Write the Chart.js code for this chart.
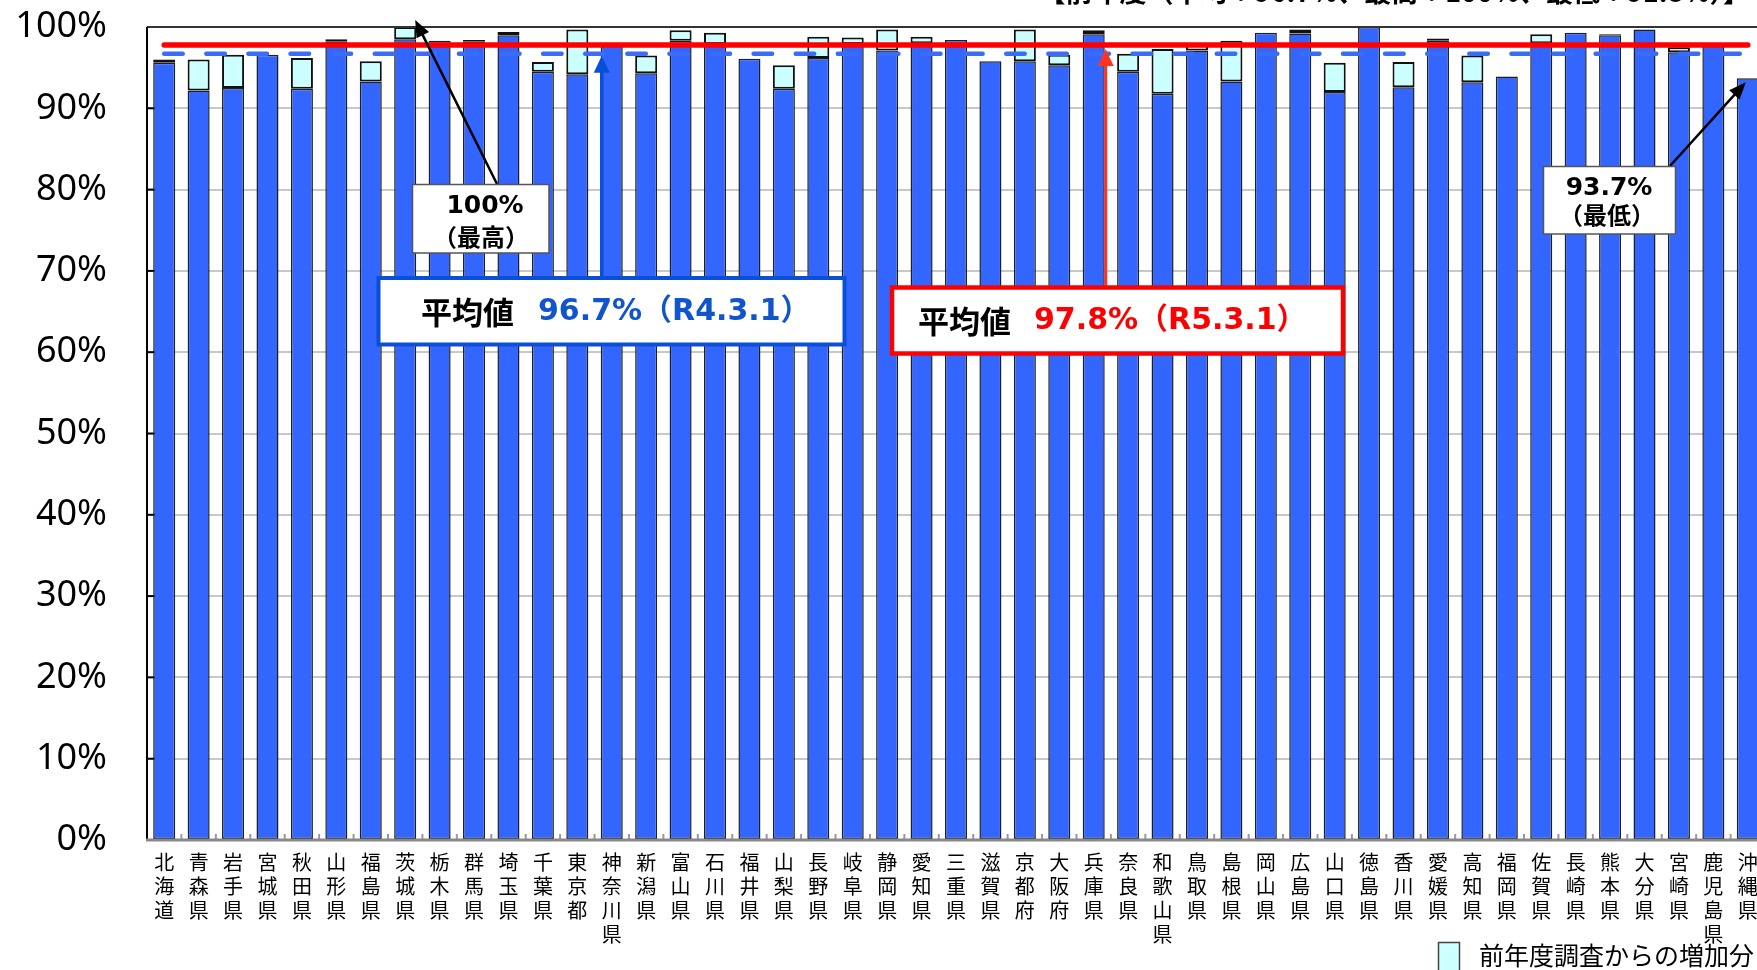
<!DOCTYPE html>
<html>
<head>
<meta charset="utf-8">
<script src="https://cdn.jsdelivr.net/npm/chart.js@4.4.1/dist/chart.umd.min.js"></script>
<style>
  html, body { margin: 0; padding: 0; overflow: hidden; background: #fff; }
  #wrap { position: absolute; left: 0; top: 0; width: 1770px; height: 970px; }
</style>
</head>
<body>
<div id="wrap"><canvas id="c" width="1770" height="970"></canvas></div>
<script>
// 都道府県
const prefectures = [
  '北海道', '青森県', '岩手県', '宮城県', '秋田県', '山形県', '福島県', '茨城県', '栃木県', '群馬県',
  '埼玉県', '千葉県', '東京都', '神奈川県', '新潟県', '富山県', '石川県', '福井県', '山梨県', '長野県',
  '岐阜県', '静岡県', '愛知県', '三重県', '滋賀県', '京都府', '大阪府', '兵庫県', '奈良県', '和歌山県',
  '鳥取県', '島根県', '岡山県', '広島県', '山口県', '徳島県', '香川県', '愛媛県', '高知県', '福岡県',
  '佐賀県', '長崎県', '熊本県', '大分県', '宮崎県', '鹿児島県', '沖縄県',
];

// 前年度調査 (R4.3.1) の値 [%]
const prevRate = [
  95.6, 92.2, 92.5, 96.6, 92.4, 98.2, 93.3, 98.5, 98.3, 98.2,
  99.0, 94.5, 94.2, 97.9, 94.3, 98.3, 97.9, 96.1, 92.4, 96.2,
  97.9, 97.1, 98.0, 98.4, 95.8, 95.8, 95.3, 99.1, 94.5, 91.8,
  97.1, 93.3, 99.3, 99.2, 92.0, 100.0, 92.6, 98.3, 93.2, 93.9,
  98.0, 99.3, 99.0, 99.7, 96.9, 97.9, 93.7,
];

// 今年度調査 (R5.3.1) の値 [%]
const currRate = [
  96.0, 96.0, 96.6, 96.6, 96.2, 98.5, 95.8, 100.0, 98.3, 98.4,
  99.4, 95.7, 99.7, 97.9, 96.5, 99.6, 99.3, 96.1, 95.3, 98.8,
  98.7, 99.7, 98.8, 98.4, 95.8, 99.7, 96.6, 99.6, 96.7, 97.3,
  98.0, 98.3, 99.3, 99.7, 95.6, 100.0, 95.7, 98.6, 96.5, 93.9,
  99.1, 99.3, 99.1, 99.7, 97.5, 97.9, 93.7,
];

const increase = currRate.map((v, i) => +(v - prevRate[i]).toFixed(1));

const avgPrev = 96.7;   // R4.3.1
const avgCurr = 97.8;   // R5.3.1
const maxIndex = 7;     // 茨城県 100%
const minIndex = 46;    // 沖縄県 93.7%

const yTicks = [0, 10, 20, 30, 40, 50, 60, 70, 80, 90, 100];

const JP = '"Noto Sans CJK JP", sans-serif';
const NUM = '"DejaVu Sans", "Noto Sans CJK JP", sans-serif';

function line(ctx, x1, y1, x2, y2) {
  ctx.beginPath(); ctx.moveTo(x1, y1); ctx.lineTo(x2, y2); ctx.stroke();
}

function arrow(ctx, x1, y1, x2, y2, color, w, head, hw) {
  const a = Math.atan2(y2 - y1, x2 - x1);
  const c = Math.cos(a), s = Math.sin(a);
  ctx.strokeStyle = color; ctx.fillStyle = color; ctx.lineWidth = w;
  line(ctx, x1, y1, x2 - head * 0.8 * c, y2 - head * 0.8 * s);
  ctx.beginPath();
  ctx.moveTo(x2, y2);
  ctx.lineTo(x2 - head * c + hw * s, y2 - head * s - hw * c);
  ctx.lineTo(x2 - head * c - hw * s, y2 - head * s + hw * c);
  ctx.closePath();
  ctx.fill();
}

function box(ctx, x, y, w, h, color, lw) {
  ctx.fillStyle = '#fff';
  ctx.fillRect(x, y, w, h);
  ctx.strokeStyle = color; ctx.lineWidth = lw;
  ctx.strokeRect(x, y, w, h);
}

const decorations = {
  id: 'decorations',
  beforeDatasetsDraw(chart) {
    const { ctx, chartArea: a, scales: { x, y } } = chart;
    ctx.save();
    // inward y ticks
    ctx.strokeStyle = '#000'; ctx.lineWidth = 2;
    yTicks.forEach(v => { const py = y.getPixelForValue(v); line(ctx, a.left, py, a.left + 14, py); });
    // small x ticks between categories
    ctx.strokeStyle = '#999'; ctx.lineWidth = 2;
    for (let i = 1; i < prefectures.length; i++) {
      const px = (x.getPixelForValue(i - 1) + x.getPixelForValue(i)) / 2;
      line(ctx, px, a.bottom, px, a.bottom - 6);
    }
    ctx.restore();
  },
  afterDatasetsDraw(chart) {
    const { ctx, chartArea: a, scales: { x, y } } = chart;
    ctx.save();
    // frame
    ctx.strokeStyle = '#333'; ctx.lineWidth = 2;
    line(ctx, a.left, a.top, a.right, a.top);
    ctx.strokeStyle = '#000';
    line(ctx, a.left, a.top, a.left, a.bottom);
    ctx.strokeStyle = '#888'; ctx.lineWidth = 3;
    line(ctx, a.left - 1, a.bottom, a.right, a.bottom);

    const x0 = x.getPixelForValue(0), x1 = x.getPixelForValue(prefectures.length - 1);
    ctx.lineCap = 'round';
    // previous average (dashed blue)
    ctx.strokeStyle = '#3b6cf5'; ctx.lineWidth = 4.5;
    ctx.setLineDash([18.5, 23.6]);
    line(ctx, x0, y.getPixelForValue(avgPrev), x1 - 8, y.getPixelForValue(avgPrev));
    ctx.setLineDash([]);
    // current average (solid red)
    ctx.strokeStyle = '#ff0000'; ctx.lineWidth = 5.5;
    line(ctx, x0, y.getPixelForValue(avgCurr), x1, y.getPixelForValue(avgCurr));
    ctx.restore();
  },
  afterDraw(chart) {
    const { ctx, scales: { x, y } } = chart;
    ctx.save();
    ctx.lineCap = 'butt';

    // header (cut off at top)
    ctx.fillStyle = '#000';
    ctx.font = 'bold 27px ' + JP;
    ctx.textAlign = 'right'; ctx.textBaseline = 'alphabetic';
    ctx.fillText('【前年度（平均：96.7%、最高：100%、最低：91.8%）】', 1750, 2);

    // max box + arrow
    arrow(ctx, 497, 184, x.getPixelForValue(maxIndex) + 10, y.getPixelForValue(100) - 7, '#000', 2.5, 17, 7);
    box(ctx, 412.5, 184.5, 136.5, 68.5, '#555', 1.5);
    ctx.fillStyle = '#000'; ctx.textAlign = 'center'; ctx.textBaseline = 'middle';
    ctx.font = 'bold 25px ' + NUM;
    ctx.fillText('100%', 485, 206);
    ctx.font = 'bold 24px ' + JP;
    ctx.fillText('（最高）', 481, 237);

    // min box + arrow
    arrow(ctx, 1670, 166, x.getPixelForValue(minIndex) - 2, y.getPixelForValue(currRate[minIndex]) + 4, '#000', 2.5, 17, 7);
    box(ctx, 1543.5, 166.5, 132, 67.5, '#555', 1.5);
    ctx.fillStyle = '#000';
    ctx.font = 'bold 25px ' + NUM;
    ctx.fillText('93.7%', 1609, 188);
    ctx.font = 'bold 24px ' + JP;
    ctx.fillText('（最低）', 1607, 215);

    // previous average label
    const bx = x.getPixelForValue(13) - 10;
    arrow(ctx, bx, 278, bx, y.getPixelForValue(avgPrev) + 2, '#0a50d6', 3.5, 17, 8);
    box(ctx, 378.5, 278, 466, 66.5, '#0a50d6', 4);
    ctx.textAlign = 'left';
    ctx.fillStyle = '#000'; ctx.font = 'bold 31px ' + JP;
    ctx.fillText('平均値', 421, 312);
    ctx.fillStyle = '#1155cc'; ctx.font = 'bold 30px ' + NUM;
    ctx.fillText('96.7%（R4.3.1）', 538, 312);

    // current average label
    const rx = x.getPixelForValue(27) + 12;
    arrow(ctx, rx, 287, rx, y.getPixelForValue(avgCurr) + 4, '#ff3322', 3, 17, 8);
    box(ctx, 892, 287.5, 451, 66, '#ff0000', 4.5);
    ctx.fillStyle = '#000'; ctx.font = 'bold 31px ' + JP;
    ctx.fillText('平均値', 918, 321);
    ctx.fillStyle = '#ff0000'; ctx.font = 'bold 30px ' + NUM;
    ctx.fillText('97.8%（R5.3.1）', 1034, 321);

    // legend
    ctx.fillStyle = '#ccffff'; ctx.fillRect(1438.5, 942.5, 21, 40);
    ctx.strokeStyle = '#444'; ctx.lineWidth = 1.5; ctx.strokeRect(1438.5, 942.5, 21, 40);
    ctx.fillStyle = '#000'; ctx.font = '25px ' + JP; ctx.textBaseline = 'middle';
    ctx.fillText('前年度調査からの増加分', 1479, 955);
    ctx.restore();
  },
};

new Chart(document.getElementById('c'), {
  type: 'bar',
  data: {
    labels: prefectures.map(p => p.split('')),
    datasets: [
      {
        label: 'R4.3.1',
        data: prevRate,
        backgroundColor: '#3366ff',
        borderColor: '#1f1f1f',
        borderWidth: 1.5,
        borderSkipped: false,
        barPercentage: 0.64,
        categoryPercentage: 1,
      },
      {
        label: '前年度調査からの増加分',
        data: increase,
        backgroundColor: '#ccffff',
        borderColor: '#111',
        borderWidth: 2,
        borderSkipped: false,
        barPercentage: 0.64,
        categoryPercentage: 1,
      },
    ],
  },
  options: {
    responsive: false,
    animation: false,
    devicePixelRatio: 1,
    layout: { padding: { left: 0, right: 5, top: 27, bottom: 0 } },
    plugins: { legend: { display: false }, tooltip: { enabled: false } },
    scales: {
      x: {
        stacked: true,
        grid: { display: false, drawTicks: false },
        border: { display: false },
        ticks: {
          autoSkip: false, maxRotation: 0, minRotation: 0, padding: 10,
          color: '#000',
          font: { family: '"Noto Sans CJK JP"', size: 20, lineHeight: 1.2 },
        },
        afterFit: (s) => { s.height = 130; s.paddingLeft = 0; s.paddingRight = 0; },
      },
      y: {
        stacked: true,
        min: 0, max: 100,
        afterBuildTicks: (s) => { s.ticks = yTicks.map(v => ({ value: v })); },
        grid: { color: '#c8c8c8', lineWidth: 2, drawTicks: false },
        border: { display: false },
        ticks: {
          padding: 40, color: '#000',
          font: { family: '"Noto Sans"', size: 36 },
          callback: (v) => v + '%',
        },
        afterFit: (s) => { s.width = 147; s.paddingTop = 0; s.paddingBottom = 0; },
      },
    },
  },
  plugins: [decorations],
});
</script>
</body>
</html>
